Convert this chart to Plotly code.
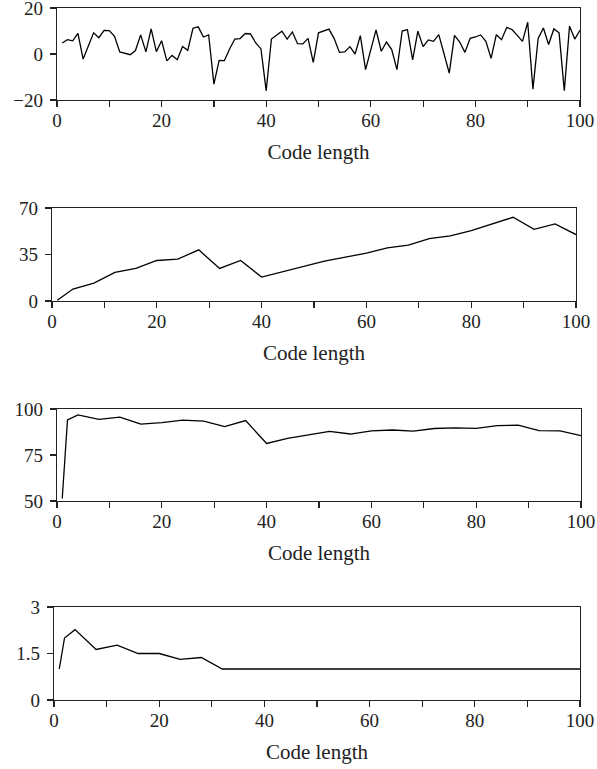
import plotly.graph_objects as go

W, H = 597, 769

# Panel 1: every code length 1..100
x1 = list(range(1, 101))
y1 = [4.8, 6.2, 5.7, 9.0, -2.2, 3.3, 9.2, 7.1, 10.3, 10.2,
      7.7, 0.9, 0.4, -0.3, 1.5, 8.3, 0.9, 10.9, 1.0, 5.8,
      -3.0, -0.6, -2.5, 3.3, 1.6, 11.2, 11.8, 7.4, 8.3, -13.1,
      -2.8, -2.9, 2.2, 6.5, 6.7, 8.9, 8.7, 4.8, 2.2, -16.0,
      6.5, 8.1, 9.9, 6.5, 9.6, 4.5, 4.4, 6.8, -3.6, 9.2,
      9.9, 10.8, 6.7, 0.7, 0.9, 3.2, 0.0, 8.0, -6.8, 2.3,
      10.5, 1.2, 5.2, 1.9, -6.8, 10.0, 10.6, -2.6, 9.9, 3.2,
      6.1, 5.5, 8.4, 0.1, -8.3, 8.1, 5.2, 0.7, 6.8, 7.4,
      8.3, 5.5, -1.9, 8.4, 6.2, 11.6, 10.6, 8.1, 5.5, 13.8,
      -15.3, 6.8, 11.3, 4.1, 10.9, 9.2, -16.0, 12.1, 6.5, 10.3]

# Panel 2
x2 = [1, 4, 8, 12, 16, 20, 24, 28, 32, 36, 40, 44, 48, 52, 56, 60,
      64, 68, 72, 76, 80, 84, 88, 92, 96, 100]
y2 = [0.5, 9, 13.5, 21.5, 24.5, 30.5, 31.5, 38.5, 24.5, 30.5, 18, 22,
      26, 30, 33, 36, 40, 42, 47, 49, 53, 58, 63, 54, 58, 50]

# Panel 3
x3 = [1, 2, 4, 8, 12, 16, 20, 24, 28, 32, 36, 40, 44, 48, 52, 56, 60,
      64, 68, 72, 76, 80, 84, 88, 92, 96, 100]
y3 = [51.4, 94, 96.8, 94.4, 95.6, 91.8, 92.6, 93.9, 93.4, 90.4, 93.7,
      81.3, 84, 85.7, 87.8, 86.4, 88.1, 88.6, 88, 89.4, 89.7, 89.5,
      91, 91.2, 88.2, 88.1, 85.5]

# Panel 4
x4 = [1, 2, 4, 8, 12, 16, 20, 24, 28, 32, 36, 40, 44, 48, 52, 56, 60,
      64, 68, 72, 76, 80, 84, 88, 92, 96, 100]
y4 = [1.0, 2.0, 2.27, 1.63, 1.77, 1.5, 1.5, 1.31, 1.37, 1.0, 1.0, 1.0,
      1.0, 1.0, 1.0, 1.0, 1.0, 1.0, 1.0, 1.0, 1.0, 1.0, 1.0, 1.0, 1.0,
      1.0, 1.0]

x_ticks = [0, 20, 40, 60, 80, 100]
y_ticks = [[-20, 0, 20], [0, 35, 70], [50, 75, 100], [0, 1.5, 3]]
y_ranges = [[-20, 20], [0, 70], [50, 100], [0, 3]]
x_title = "Code length"

# pixel boxes in the window (left, right, top, bottom)
boxes = [(57, 580, 8, 100), (52, 576, 208, 301), (57, 581, 409, 501), (54, 580, 607, 700)]

FONT = "Liberation Serif"
fig = go.Figure()
series = [(x1, y1), (x2, y2), (x3, y3), (x4, y4)]
for i, ((xs, ys), (l, r, t, b)) in enumerate(zip(series, boxes)):
    n = "" if i == 0 else str(i + 1)
    fig.add_trace(go.Scatter(x=xs, y=ys, mode="lines", xaxis="x" + n, yaxis="y" + n,
                             line=dict(color="black", width=1.3), showlegend=False,
                             hoverinfo="skip"))
    axcommon = dict(showgrid=False, zeroline=False, showline=True, linecolor="#222",
                    linewidth=1.2, mirror=True, ticks="outside", ticklen=6,
                    tickcolor="#222", tickwidth=1.2, automargin=False,
                    ticklabeloverflow="allow",
                    tickfont=dict(family=FONT, size=19, color="#222"))
    fig.layout["xaxis" + n] = dict(
        axcommon, domain=[l / W, r / W], range=[0, 100], anchor="y" + n,
        tickvals=x_ticks, ticklabelstandoff=-3,
        minor=dict(tickvals=list(range(0, 101, 10)), ticks="outside", ticklen=6,
                   tickcolor="#222", tickwidth=1.2),
        title=dict(text=x_title, font=dict(family=FONT, size=21, color="#222"), standoff=14))
    fig.layout["yaxis" + n] = dict(
        axcommon, domain=[1 - b / H, 1 - t / H], range=y_ranges[i], anchor="x" + n,
        tickvals=y_ticks[i], ticklabelstandoff=3)

fig.update_layout(width=W, height=H, margin=dict(l=0, r=0, t=0, b=0, autoexpand=False),
                  paper_bgcolor="white", plot_bgcolor="white")
fig.write_html("out.html", config={"displayModeBar": False, "staticPlot": True},
               post_script="document.body.style.margin='0';"
                           "document.body.style.overflow='hidden';"
                           "document.documentElement.style.overflow='hidden';")
